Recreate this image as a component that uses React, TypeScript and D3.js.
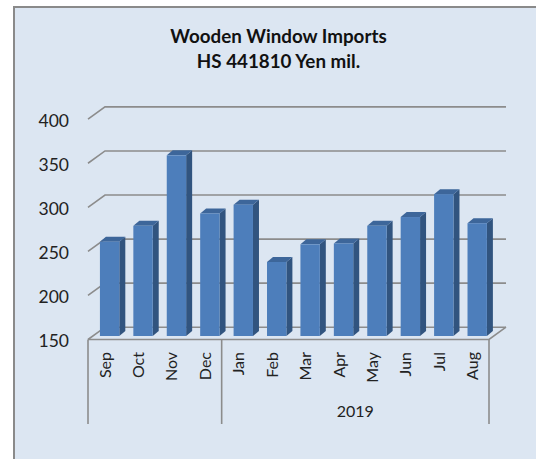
import React from "react";
import * as d3 from "d3";

const months = ["Sep", "Oct", "Nov", "Dec", "Jan", "Feb", "Mar", "Apr", "May", "Jun", "Jul", "Aug"];
const imports = [257, 275, 355, 289, 299, 234, 254, 255, 275, 285, 311, 278];
const yTicks = [150, 200, 250, 300, 350, 400];
const titleLines = ["Wooden Window Imports", "HS 441810 Yen mil."];
const yearGroups = [
  { label: "", from: 0, to: 4 },
  { label: "2019", from: 4, to: 12 },
];

const W = 536;
const H = 459;
const FONT = "Lato, Carlito, 'Open Sans', sans-serif";
const GRID = "#8c8c8c";

const x = d3.scaleBand<string>().domain(months).range([88, 489]).paddingInner(0.42).paddingOuter(0.21).align(0.85);
const y = d3.scaleLinear().domain([150, 400]).range([339.5, 119.2]);
const wallDx = 17;
const wallDy = 12.3;
const barInsetY = 3.5;
const barDx = 6;
const barDy = 5;
const groupX = (i: number) => x.range()[0] + (x.range()[1] - x.range()[0]) * (i / months.length);

export default function App() {
  return (
    <svg width={W} height={H} viewBox={`0 0 ${W} ${H}`} style={{ position: "fixed", left: 0, top: 0, display: "block" }}>
      <rect width={W} height={H} fill="#ffffff" />
      <rect x={14} y={7} width={W - 14} height={H - 7} fill="#dce6f2" />
      <path d={`M14 ${H}V7H${W}`} fill="none" stroke="#8a8a8a" strokeWidth={2} />

      {titleLines.map((t, i) => (
        <text key={t} x={278.5} y={43 + i * 25} textAnchor="middle" fontFamily={FONT} fontWeight={700} fontSize={18.8} fill="#111">
          {t}
        </text>
      ))}

      {yTicks.map((t) => (
        <g key={t}>
          <path
            d={`M${x.range()[0]} ${y(t)}L${x.range()[0] + wallDx} ${y(t) - wallDy}H${x.range()[1] + wallDx}`}
            fill="none"
            stroke={GRID}
            strokeWidth={1.6}
          />
          <text x={69} y={y(t) + 7.5} textAnchor="end" fontFamily={FONT} fontSize={17.5} fill="#222">
            {t}
          </text>
        </g>
      ))}
      <path
        d={`M${x.range()[0]} ${y(150)}H${x.range()[1]}L${x.range()[1] + wallDx} ${y(150) - wallDy}`}
        fill="none"
        stroke={GRID}
        strokeWidth={1.6}
      />

      {months.map((m, i) => {
        const bx = x(m)!;
        const bw = x.bandwidth();
        const y0 = y(150) - barInsetY;
        const y1 = y(imports[i]) - barInsetY;
        return (
          <g key={m}>
            <path
              d={`M${bx + bw} ${y0}V${y1}l${barDx} ${-barDy}V${y0 - barDy}Z`}
              fill="#31547f"
            />
            <path d={`M${bx} ${y1}l${barDx} ${-barDy}h${bw}l${-barDx} ${barDy}Z`} fill="#3d669a" />
            <rect x={bx} y={y1} width={bw} height={y0 - y1} fill="#4d7ebb" />
            <text
              transform={`translate(${bx + bw / 2 + 1},352) rotate(-90)`}
              textAnchor="end"
              fontFamily={FONT}
              fontSize={16}
              fill="#222"
            >
              {m}
            </text>
          </g>
        );
      })}

      {[0, 4, 12].map((i) => (
        <line key={i} x1={groupX(i)} x2={groupX(i)} y1={y(150)} y2={424} stroke={GRID} strokeWidth={1.6} />
      ))}
      {yearGroups.map((g) => (
        <text
          key={g.from}
          x={(groupX(g.from) + groupX(g.to)) / 2}
          y={417}
          textAnchor="middle"
          fontFamily={FONT}
          fontSize={16}
          fill="#222"
        >
          {g.label}
        </text>
      ))}
    </svg>
  );
}
